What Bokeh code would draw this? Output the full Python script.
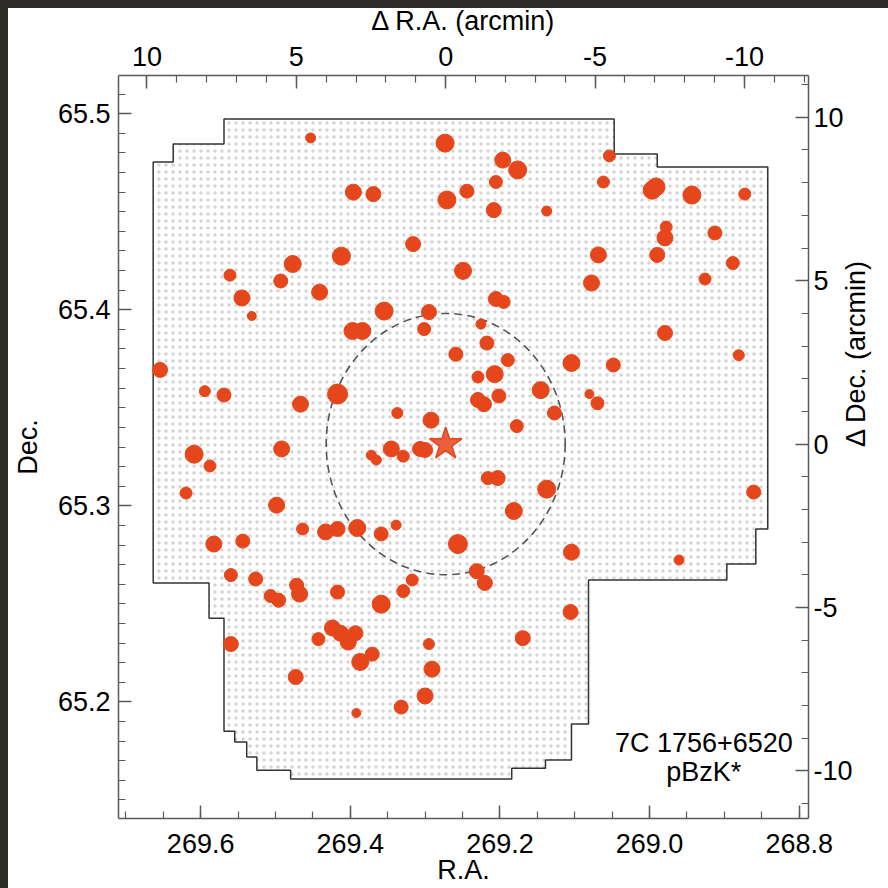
import math
from bokeh.plotting import figure
from bokeh.layouts import column
from bokeh.models import Range1d, LinearAxis, SingleIntervalTicker, PrintfTickFormatter, Label
from bokeh.embed import file_html
from bokeh.resources import INLINE

# ---- field centre (7C 1756+6520) and plotted limits (degrees) ----
RA0 = 269.2725
DEC0 = 65.3315
RA_LIM = (269.7098, 268.7876)
DEC_LIM = (65.1405, 65.5195)
COSD = math.cos(math.radians(DEC0))

# ---- pBzK* galaxies: offsets from the radio galaxy (arcmin) ----
dra = [4.52, 3.09, 2.42, 3.49, 5.12, 7.22, 5.52, 4.22, 6.82, 6.49,
       2.06, 3.12, 2.79, 9.56, 0.02, -1.91, -2.41, -5.48, -1.68, -0.71,
       -0.04, -1.61, -3.38, -5.28, -7.04, -6.91, -8.24, -10.01, -7.38, -7.34,
       -9.01, -7.08, -9.61, -5.11, -4.88, -8.68, 1.09, -0.58, -1.68, -1.94,
       0.56, 0.72, -1.18, -7.34, -9.81, -0.34, -1.38, -2.08, -4.21, -5.61,
       -1.08, -1.64, -3.18, -4.81, -5.08, -1.08, -1.28, -1.78, -3.64, 0.49,
       -2.38, 1.62, 0.86, 0.69, 1.42, -1.41, -1.74, -3.38, -10.31, -2.28,
       -0.41, -4.21, -7.81, -1.04, -1.31, 1.12, 1.42, -4.18, -2.58, 0.56,
       0.46, 0.69, 1.49, 8.06, 7.42, 4.86, 3.62, 8.42, 7.89, 5.49,
       2.49, 2.32, 1.82, 8.69, 5.66, 4.79, 4.02, 3.62, 2.96, 2.16,
       1.66, 7.76, 6.79, 7.19, 6.36, 4.99, 4.89, 5.86, 5.59, 3.62,
       2.16, 3.79, 3.52, 3.26, 3.02, 4.26, 2.86, 2.46, 7.19, 5.02,
       2.99]
ddec = [9.37, 7.71, 7.65, 5.75, 5.51, 5.17, 4.99, 4.65, 4.47, 3.92,
        4.07, 3.46, 3.46, 2.27, 9.21, 8.69, 8.39, 8.82, 8.02, 7.74,
        7.47, 7.16, 7.13, 8.02, 7.87, 7.77, 7.62, 7.65, 6.64, 6.31,
        6.46, 5.79, 5.54, 5.79, 4.93, 5.05, 6.12, 5.30, 4.44, 4.35,
        4.04, 3.52, 3.67, 3.40, 2.72, 2.75, 3.09, 2.57, 2.48, 2.42,
        2.05, 2.14, 1.65, 1.53, 1.25, 1.35, 1.22, 1.47, 0.95, 0.73,
        0.55, 0.95, -0.15, -0.18, -0.37, -1.04, -1.04, -1.38, -1.47, -2.05,
        -3.06, -3.31, -3.55, -3.89, -4.25, -4.16, -4.50, -5.14, -5.94, -6.12,
        -6.89, -7.71, -8.05, 1.62, 1.50, 1.22, 1.53, -0.31, -0.67, -0.15,
        -0.34, -0.49, -0.15, -1.50, -1.87, -2.60, -2.69, -2.60, -2.57, -2.75,
        -2.48, -3.06, -2.97, -4.01, -4.13, -4.32, -4.59, -4.65, -4.78, -4.53,
        -4.90, -5.63, -5.79, -6.06, -5.79, -5.97, -6.67, -6.43, -6.12, -7.13,
        -8.23]
# relative symbol size (brightness) of each galaxy
dot_size = [10, 16, 15, 18, 17, 12, 14, 16, 16, 9,
            18, 17, 17, 15, 18, 16, 18, 12, 13, 14,
            18, 15, 10, 12, 18, 18, 18, 12, 12, 16,
            14, 15, 13, 16, 16, 12, 15, 17, 15, 13,
            15, 13, 10, 15, 11, 14, 14, 13, 17, 14,
            12, 17, 17, 9, 13, 15, 15, 14, 14, 16,
            13, 11, 15, 15, 12, 13, 15, 18, 14, 17,
            19, 16, 10, 15, 15, 12, 13, 15, 15, 11,
            16, 16, 14, 11, 14, 16, 20, 18, 12, 16,
            10, 10, 16, 12, 16, 12, 16, 15, 17, 14,
            10, 16, 14, 13, 14, 14, 16, 13, 14, 14,
            18, 16, 16, 16, 15, 13, 17, 14, 15, 15,
            9]

# ---- survey footprint outline (arcmin offsets) ----
poly_dra = [9.79, 9.12, 9.12, 7.42, 7.42, -5.64, -5.64, -7.08, -7.08, -10.78,
            -10.78, -10.38, -10.38, -9.41, -9.41, -4.78, -4.78, -4.21, -4.21, -3.34,
            -3.34, -2.21, -2.21, 5.19, 5.19, 6.32, 6.32, 6.66, 6.66, 7.06,
            7.06, 7.42, 7.42, 7.92, 7.92, 9.79]
poly_ddec = [8.63, 8.63, 9.18, 9.18, 9.95, 9.95, 8.88, 8.88, 8.48, 8.48,
             -2.60, -2.60, -3.67, -3.67, -4.16, -4.16, -8.57, -8.57, -9.67, -9.67,
             -9.92, -9.92, -10.25, -10.25, -9.98, -9.98, -9.58, -9.58, -9.12, -9.12,
             -8.79, -8.79, -5.33, -5.33, -4.25, -4.25]

# target and search radius
target_dra = [0.0]
target_ddec = [0.0]
circle_radius = 4.0  # arcmin

FONT = "Liberation Sans"
FS = "27px"
RED = "#E5461B"
AX = "#5a5a5a"
DARK = "#2d2b27"

p = figure(width=880, height=888,
           x_range=Range1d(*RA_LIM), y_range=Range1d(*DEC_LIM),
           output_backend="svg", toolbar_location=None,
           min_border_left=110, min_border_right=77,
           min_border_top=75, min_border_bottom=70)
try:
    p.title_location = None
except Exception:
    p.title.visible = False
p.margin = (0, 0, 0, 8)
p.extra_x_ranges = {"dra": Range1d((RA_LIM[0] - RA0) * 60 * COSD, (RA_LIM[1] - RA0) * 60 * COSD)}
p.extra_y_ranges = {"ddec": Range1d((DEC_LIM[0] - DEC0) * 60, (DEC_LIM[1] - DEC0) * 60)}
p.grid.visible = False
p.outline_line_color = None
p.background_fill_color = "white"
p.border_fill_color = "white"
p.border_fill_alpha = 0.0

bottom = p.below[0]
left = p.left[0]
top = LinearAxis(x_range_name="dra")
right = LinearAxis(y_range_name="ddec")
p.add_layout(top, "above")
p.add_layout(right, "right")

bottom.ticker = SingleIntervalTicker(interval=0.2, num_minor_ticks=4)
bottom.formatter = PrintfTickFormatter(format="%.1f")
bottom.axis_label = "R.A."
left.ticker = SingleIntervalTicker(interval=0.1, num_minor_ticks=10)
left.formatter = PrintfTickFormatter(format="%.1f")
left.axis_label = "Dec."
top.ticker = SingleIntervalTicker(interval=5, num_minor_ticks=5)
top.formatter = PrintfTickFormatter(format="%d")
top.axis_label = "\u0394 R.A. (arcmin)"
right.ticker = SingleIntervalTicker(interval=5, num_minor_ticks=5)
right.formatter = PrintfTickFormatter(format="%d")
right.axis_label = "\u0394 Dec. (arcmin)"
try:
    right.axis_label_orientation = math.pi / 2
except Exception:
    pass

for ax in [bottom, left, top, right]:
    ax.axis_line_color = AX
    ax.axis_line_width = 1.5
    ax.major_tick_line_color = AX
    ax.minor_tick_line_color = AX
    ax.major_tick_line_width = 1.5
    ax.minor_tick_line_width = 1.2
    ax.major_tick_in = 13
    ax.major_tick_out = 0
    ax.minor_tick_in = 7
    ax.minor_tick_out = 0
    ax.major_label_text_font = FONT
    ax.major_label_text_font_size = FS
    ax.major_label_text_color = "black"
    ax.major_label_standoff = 6
    ax.axis_label_text_font = FONT
    ax.axis_label_text_font_size = FS
    ax.axis_label_text_font_style = "normal"
    ax.axis_label_text_color = "black"
    ax.axis_label_standoff = 0
left.major_label_standoff = 8
left.axis_label_standoff = 12
right.major_label_standoff = 5
top.major_label_standoff = 10
top.axis_label_standoff = 8
bottom.major_label_standoff = 15
bottom.axis_label_standoff = -1

# footprint with stippled fill
p.patch(poly_dra, poly_ddec, x_range_name="dra", y_range_name="ddec",
        fill_color=None, line_color="#333333", line_width=1.5,
        hatch_pattern="dot", hatch_color="#a0a0a0", hatch_scale=7, hatch_weight=0.5,
        hatch_alpha=0.45)

# 4 arcmin circle
p.ellipse(x=target_dra, y=target_ddec, width=2 * circle_radius, height=2 * circle_radius,
          x_range_name="dra", y_range_name="ddec",
          fill_color=None, line_color="#555555", line_width=1.6, line_dash="8 5")

# galaxies
p.scatter(dra, ddec, size=dot_size, x_range_name="dra", y_range_name="ddec",
          fill_color=RED, line_color=RED, line_width=1)

# radio galaxy
p.scatter(target_dra, target_ddec, marker="star", size=34, x_range_name="dra", y_range_name="ddec",
          fill_color=RED, fill_alpha=0.85, line_color=RED, line_width=1.5)

p.add_layout(Label(x=-8.64, y=-9.15, x_range_name="dra", y_range_name="ddec",
                   text="7C 1756+6520", text_align="center", text_baseline="alphabetic",
                   text_font=FONT, text_font_size=FS, text_color="black"))
p.add_layout(Label(x=-8.64, y=-10.04, x_range_name="dra", y_range_name="ddec",
                   text="pBzK*", text_align="center", text_baseline="alphabetic",
                   text_font=FONT, text_font_size=FS, text_color="black"))

root = column(p, styles={
    "overflow": "hidden",
    "background-color": "white",
    "background-repeat": "no-repeat",
    "background-image": ("linear-gradient(to right, %s 8px, rgba(255,255,255,0) 8px), "
                         "linear-gradient(to bottom, %s 8px, rgba(255,255,255,0) 8px)") % (DARK, DARK),
})
open("out.html", "w").write(file_html(root, INLINE))
